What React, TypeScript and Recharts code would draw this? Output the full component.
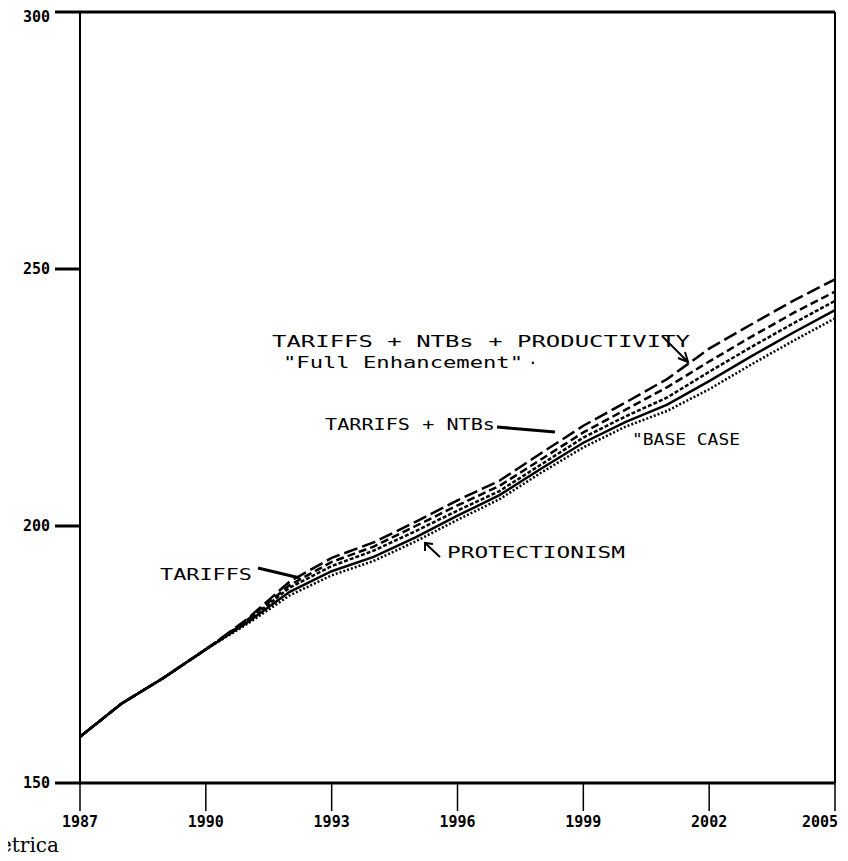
import React from "react";
import { LineChart, Line, XAxis, YAxis, ReferenceLine } from "recharts";

const YEARS = [1987, 1988, 1989, 1990, 1991, 1992, 1993, 1994, 1995, 1996, 1997, 1998, 1999, 2000, 2001, 2002, 2003, 2004, 2005];

const FULL_ENHANCEMENT = [159, 165.5, 170.5, 176, 182, 189.2, 193.8, 196.8, 200.8, 205, 208.8, 214.2, 219.5, 224, 228.6, 234.5, 239.2, 243.8, 248];
const TARIFFS_NTBS = [159, 165.5, 170.5, 176, 181.8, 188.5, 193, 196, 200, 204, 207.8, 213, 218.2, 222.6, 227, 232, 236.8, 241.4, 245.6];
const TARIFFS = [159, 165.5, 170.5, 176, 181.6, 188, 192.2, 195.2, 199, 203, 206.8, 212, 217.2, 221.3, 225, 230, 234.8, 239.4, 243.8];
const BASE_CASE = [159, 165.5, 170.5, 176, 181.3, 187.2, 191.2, 194, 197.8, 202, 206, 211.2, 216.2, 220.2, 223.6, 228.2, 233, 237.6, 242];
const PROTECTIONISM = [159, 165.5, 170.5, 176, 181, 186.5, 190.4, 193.2, 197, 201.2, 205.2, 210.4, 215.3, 219.3, 222.4, 226.6, 231.4, 236, 240.4];

const X_TICKS = [1987, 1990, 1993, 1996, 1999, 2002, 2005];
const Y_TICKS = [150, 200, 250, 300];

const data = YEARS.map((year, i) => ({
  year,
  full: FULL_ENHANCEMENT[i],
  tn: TARIFFS_NTBS[i],
  tariffs: TARIFFS[i],
  base: BASE_CASE[i],
  protect: PROTECTIONISM[i],
}));

const MONO = "'DejaVu Sans Mono', monospace";

function XTick({ x, y, payload }: any) {
  const last = payload.value === 2005;
  return (
    <text x={last ? 830 : x} y={y + 10} textAnchor={last ? "end" : "middle"} fontFamily={MONO} fontWeight="bold" fontSize={15} fill="#000">
      {payload.value}
    </text>
  );
}

function YTick({ x, y, payload }: any) {
  return (
    <text x={x} y={y + 5} textAnchor="end" fontFamily={MONO} fontWeight="bold" fontSize={15} fill="#000">
      {payload.value}
    </text>
  );
}

export default function App() {
  return (
    <div style={{ position: "relative", width: 832, height: 853, background: "#fff" }}>
      <LineChart width={832} height={853} data={data} margin={{ top: 4, right: 5, bottom: 18, left: -8 }}>
        <XAxis
          dataKey="year"
          type="number"
          domain={[1987, 2005]}
          ticks={X_TICKS}
          tick={<XTick />}
          tickSize={28}
          tickMargin={6}
          height={60}
          axisLine={{ stroke: "#000", strokeWidth: 3 }}
          tickLine={{ stroke: "#000", strokeWidth: 1.5 }}
        />
        <YAxis
          type="number"
          domain={[150, 300]}
          ticks={Y_TICKS}
          tick={<YTick />}
          tickSize={25}
          tickMargin={5}
          width={80}
          axisLine={{ stroke: "#000", strokeWidth: 2 }}
          tickLine={{ stroke: "#000", strokeWidth: 3 }}
        />
        <ReferenceLine y={300} stroke="#000" strokeWidth={3} />
        <ReferenceLine x={2005} stroke="#000" strokeWidth={2} />
        <Line dataKey="full" stroke="#000" strokeWidth={2.5} strokeDasharray="14 5" dot={false} isAnimationActive={false} />
        <Line dataKey="tn" stroke="#000" strokeWidth={2.5} strokeDasharray="8 4" dot={false} isAnimationActive={false} />
        <Line dataKey="tariffs" stroke="#000" strokeWidth={2.5} strokeDasharray="4 2" dot={false} isAnimationActive={false} />
        <Line dataKey="base" stroke="#000" strokeWidth={2.5} dot={false} isAnimationActive={false} />
        <Line dataKey="protect" stroke="#000" strokeWidth={2.5} strokeDasharray="2 2" dot={false} isAnimationActive={false} />
      </LineChart>
      <svg width={840} height={861} style={{ position: "absolute", left: -8, top: -8, pointerEvents: "none" }}>
        <g fontFamily={MONO} fontSize={16} fill="#000">
          <text x={272} y={347} textLength={418} lengthAdjust="spacingAndGlyphs">TARIFFS + NTBs + PRODUCTIVITY</text>
          <text x={283} y={368} textLength={240} lengthAdjust="spacingAndGlyphs">"Full Enhancement"</text>
          <text x={528} y={368}>·</text>
          <text x={325} y={430} textLength={170} lengthAdjust="spacingAndGlyphs">TARRIFS + NTBs</text>
          <text x={632} y={445} textLength={108} lengthAdjust="spacingAndGlyphs">"BASE CASE</text>
          <text x={160} y={580} textLength={92} lengthAdjust="spacingAndGlyphs">TARIFFS</text>
          <text x={447} y={558} textLength={178} lengthAdjust="spacingAndGlyphs">PROTECTIONISM</text>
        </g>
        <g stroke="#000" fill="none">
          <line x1={662} y1={336} x2={688} y2={362} strokeWidth={2} />
          <polyline points="678,358 688,362 685,352" strokeWidth={2} />
          <line x1={497} y1={427} x2={555} y2={432} strokeWidth={3} />
          <line x1={258} y1={568} x2={300} y2={578} strokeWidth={3} />
          <line x1={440} y1={557} x2={425} y2={543} strokeWidth={2} />
          <polyline points="425,551 425,543 433,544" strokeWidth={2} />
        </g>
        <text x={0} y={852} fontFamily="'DejaVu Serif', serif" fontSize={20} fill="#000">etrica</text>
      </svg>
    </div>
  );
}
